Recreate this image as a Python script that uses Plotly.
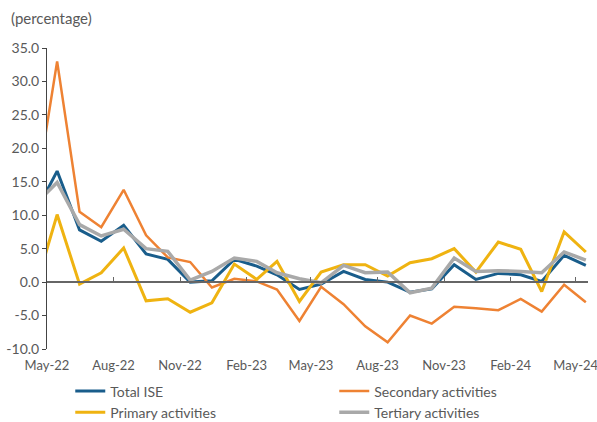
import pandas as pd
import plotly.graph_objects as go

# monthly observations, plotted mid-month (first one sits just left of the axis)
months = pd.date_range("2022-04-01", periods=26, freq="MS") + pd.Timedelta(days=14)

total_ise = [10.4, 16.6, 7.8, 6.1, 8.5, 4.2, 3.4, 0.0, 0.2, 3.4, 2.4, 1.1, -1.1,
             -0.3, 1.6, 0.4, 0.0, -1.5, -1.0, 2.6, 0.4, 1.3, 1.1, 0.1, 4.0, 2.5]
secondary = [12.6, 33.0, 10.5, 8.2, 13.8, 7.0, 3.7, 3.0, -0.8, 0.5, 0.1, -1.1, -5.8,
             -0.7, -3.3, -6.6, -9.0, -5.0, -6.2, -3.7, -3.9, -4.2, -2.5, -4.4, -0.4, -3.0]
primary = [-0.9, 10.1, -0.3, 1.4, 5.1, -2.8, -2.5, -4.5, -3.1, 2.7, 0.4, 3.1, -2.9,
           1.5, 2.6, 2.6, 0.9, 2.9, 3.5, 5.0, 1.5, 6.0, 4.9, -1.4, 7.5, 4.5]
tertiary = [11.7, 14.9, 8.6, 6.9, 7.9, 5.0, 4.6, 0.3, 1.6, 3.6, 3.1, 1.4, 0.5,
            -0.1, 2.5, 1.4, 1.5, -1.6, -0.9, 3.6, 1.6, 1.7, 1.6, 1.4, 4.5, 3.3]

y_ticks = [-10, -5, 0, 5, 10, 15, 20, 25, 30, 35]
y_labels = [f"{v:.1f}" for v in y_ticks]

series = [
    ("Total ISE", total_ise, "#195d8b", 3),
    ("Secondary activities", secondary, "#ee8233", 2.5),
    ("Primary activities", primary, "#efb311", 3),
    ("Tertiary activities", tertiary, "#a9a9a9", 3.5),
]

fig = go.Figure()
for name, values, color, width in series:
    fig.add_trace(
        go.Scatter(
            x=months,
            y=values,
            name=name,
            mode="lines",
            line=dict(color=color, width=width),
        )
    )

x_range = ["2022-05-01", "2024-05-18"]
font_color = "#595959"

fig.update_layout(
    width=597,
    height=422,
    margin=dict(l=47, r=9, t=48, b=73, autoexpand=False),
    plot_bgcolor="white",
    paper_bgcolor="white",
    font=dict(family="Lato", size=14, color=font_color),
    showlegend=True,
    legend=dict(
        orientation="h",
        x=0.043,
        y=-0.088,
        xanchor="left",
        yanchor="top",
        entrywidth=219,
        entrywidthmode="pixels",
        tracegroupgap=0,
        font=dict(size=14, color=font_color),
    ),
    xaxis=dict(
        type="date",
        range=x_range,
        tick0="2022-05-01",
        dtick="M3",
        tickformat="%b-%y",
        showgrid=False,
        showline=False,
        ticks="",
        zeroline=False,
        automargin=False,
        ticklabelstandoff=7,
        ticklabeloverflow="allow",
        tickfont=dict(size=13),
    ),
    xaxis2=dict(
        type="date",
        range=x_range,
        overlaying="x",
        anchor="free",
        position=10 / 45,
        tick0="2022-05-01",
        dtick="M3",
        showticklabels=False,
        showgrid=False,
        showline=True,
        linecolor="#666666",
        linewidth=1.5,
        ticks="inside",
        ticklen=4,
        tickcolor="#666666",
    ),
    yaxis=dict(
        range=[-10, 35],
        tickvals=y_ticks,
        ticktext=y_labels,
        showgrid=False,
        zeroline=False,
        showline=True,
        linecolor="#444444",
        linewidth=1,
        ticks="outside",
        ticklen=4,
        tickcolor="#444444",
        automargin=False,
        tickfont=dict(size=14),
    ),
)

# empty trace so the zero-line axis is drawn
fig.add_trace(go.Scatter(x=[], y=[], xaxis="x2", showlegend=False, hoverinfo="skip"))

fig.add_annotation(
    text="(percentage)",
    xref="paper",
    yref="paper",
    x=-0.07,
    y=1.1,
    xanchor="left",
    yanchor="middle",
    showarrow=False,
    font=dict(size=15, color=font_color),
)

# drop the browser's default body margin so the figure fills the window
fig.write_html(
    "out.html",
    config={"displayModeBar": False},
    post_script="document.body.style.margin = '0';",
)
